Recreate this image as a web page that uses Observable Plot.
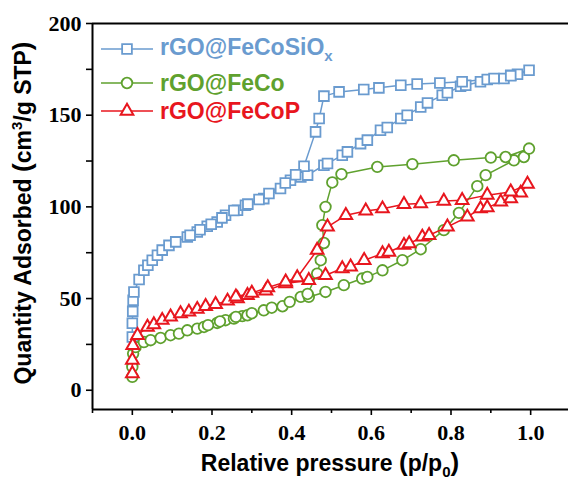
<!DOCTYPE html>
<html>
<head>
<meta charset="utf-8">
<script src="https://cdn.jsdelivr.net/npm/d3@7"></script>
<script src="https://cdn.jsdelivr.net/npm/@observablehq/plot@0.6"></script>
<style>
  html, body { margin: 0; padding: 0; background: #fff; }
  #wrap { position: relative; width: 568px; height: 479px; overflow: hidden; }
  .title { position: absolute; font-family: "Liberation Sans", Arial, sans-serif; font-weight: bold; font-size: 23px; color: #000; white-space: nowrap; line-height: 1; }
  .leg { position: absolute; display: flex; align-items: center; font-family: "Liberation Sans", Arial, sans-serif; font-weight: bold; font-size: 23px; white-space: nowrap; line-height: 1; }
  .leg svg { margin-right: 7px; }
</style>
</head>
<body>
<div id="wrap"></div>
<script>
// ---------- data ----------
const seriesNames = ["rGO@FeCoSiOx", "rGO@FeCo", "rGO@FeCoP"];
const seriesColors = ["#6a9bcf", "#5fa12e", "#e8161e"];

// rGO@FeCoSiOx : adsorption then desorption
const pBlue = [0.000,0.000,0.001,0.002,0.004,0.017,0.029,0.039,0.050,0.063,0.075,0.092,0.109,0.138,0.163,0.188,0.213,0.234,0.264,0.284,0.330,0.372,0.397,0.423,0.440,0.481,0.490,0.527,0.540,0.573,0.590,0.623,0.640,0.674,0.690,0.724,0.741,0.778,0.791,0.824,0.837,0.874,0.891,0.933,0.950,0.967,0.996,
               0.950,0.908,0.828,0.772,0.715,0.674,0.619,0.581,0.519,0.481,0.469,0.460,0.431,0.410,0.384,0.343,0.318,0.290,0.255,0.225,0.198,0.170,0.145];
const qBlue = [29,36.5,43,49,53.6,60.4,65.4,68.2,70.9,73.6,76.4,79,80.9,83.6,86.3,89.4,91.8,95.4,98.2,100.9,104.5,110,114.5,116.3,117.3,122.7,123.6,128.2,130,134.5,136.4,141.8,143.3,148.2,150,154.5,156.7,160.9,162.2,165.8,166.3,168.2,169.5,170,171.8,172.3,174.5,
               171.5,170,168.2,167.6,167,166.3,164.9,164,162.7,160.4,148.2,140.9,122.2,117.5,113,107.3,104,101.5,98,94,90.5,87.5,84.5];

// rGO@FeCo
const pGreen = [0.000,0.000,0.002,0.008,0.029,0.046,0.071,0.096,0.117,0.138,0.163,0.180,0.213,0.234,0.255,0.276,0.289,0.330,0.377,0.423,0.443,0.485,0.531,0.577,0.590,0.628,0.678,0.724,0.782,0.820,0.866,0.887,0.958,0.983,0.996,
                0.937,0.900,0.807,0.703,0.615,0.525,0.502,0.485,0.477,0.481,0.473,0.464,0.440,0.395,0.350,0.300,0.260,0.220,0.190];
const qGreen = [7.3,12.7,20,23.5,26.3,27.3,28.5,30,30.9,32.7,33.6,34.5,36.7,38.2,39.1,40.4,40.9,43.6,45.8,50.9,50.9,53.6,57.3,60.9,61.8,65.4,70.9,76.9,87.3,96.7,111.3,117.3,125.4,127.2,131.8,
                127.2,126.9,125.4,123.3,121.8,117.8,113.3,100,90,80.3,70.9,63.6,52.5,48.2,45,42,40,37.5,35.5];

// rGO@FeCoP
const pRed = [0.000,0.000,0.001,0.013,0.038,0.054,0.075,0.096,0.121,0.142,0.163,0.184,0.209,0.239,0.264,0.289,0.335,0.385,0.443,0.485,0.527,0.548,0.582,0.628,0.644,0.682,0.695,0.728,0.745,0.791,0.841,0.874,0.891,0.925,0.950,0.975,0.992,
              0.950,0.891,0.828,0.782,0.724,0.682,0.628,0.586,0.536,0.490,0.464,0.414,0.385,0.340,0.300,0.260];
const qRed = [9.1,16.4,24.5,30,34.5,35.8,38.2,40,41.8,42.7,44.2,45.8,46.9,48.7,50,51.8,54.2,58.2,60,62.7,66.4,67.3,70.9,74.5,75.4,79.1,80,83.6,84.5,89.1,94.5,99,99.6,102.7,104.5,107.6,112.4,
              108.2,106.4,103.6,103.2,101.8,101.4,99,97.8,95.4,89.1,76.4,61.5,59.1,56,53,51];

const xMajorTicks = [0, 0.2, 0.4, 0.6, 0.8, 1.0];
const xMinorTicks = [-0.1, 0.1, 0.3, 0.5, 0.7, 0.9];
const yMajorTicks = [0, 50, 100, 150, 200];
const yMinorTicks = [25, 75, 125, 175];
const xDomain = [-0.1, 1.095];
const yDomain = [-10.5, 200];

// ---------- build ----------
function rows(ps, qs, name) { return ps.map((p, i) => ({p, q: qs[i], s: name})); }
const dBlue = rows(pBlue, qBlue, seriesNames[0]);
const dGreen = rows(pGreen, qGreen, seriesNames[1]);
const dRed = rows(pRed, qRed, seriesNames[2]);

const symbols = ["square", "circle", "triangle"];
const radii = [5.5, 5.3, 4.7];
const datasets = [dBlue, dGreen, dRed];

const marks = [];
datasets.forEach((d, i) => {
  marks.push(Plot.line(d, {x: "p", y: "q", stroke: seriesColors[i], strokeWidth: 1.5}));
  marks.push(Plot.dot(d, {x: "p", y: "q", symbol: () => symbols[i], r: radii[i], stroke: seriesColors[i], fill: "white", strokeWidth: i === 2 ? 2 : 1.8}));
});

const chart = Plot.plot({
  width: 568, height: 479,
  marginLeft: 92, marginRight: 0, marginTop: 23, marginBottom: 70,
  x: {domain: xDomain},
  y: {domain: yDomain},
  style: {fontFamily: "'Liberation Serif', 'Times New Roman', serif", fontSize: "22px", fontWeight: "bold", background: "white", color: "#000"},
  marks: [
    Plot.axisX({ticks: xMajorTicks, tickFormat: d3.format(".1f"), tickSize: 6, tickPadding: 9, strokeWidth: 1.6, label: null}),
    Plot.axisX({ticks: xMinorTicks, tickFormat: () => "", tickSize: 4, strokeWidth: 1.6, label: null}),
    Plot.axisY({ticks: yMajorTicks, tickFormat: d3.format("d"), tickSize: 6, tickPadding: 5, strokeWidth: 1.6, label: null}),
    Plot.axisY({ticks: yMinorTicks, tickFormat: () => "", tickSize: 6, strokeWidth: 1.6, label: null}),
    ...marks,
    Plot.ruleX([xDomain[0]], {strokeWidth: 2}),
    Plot.ruleY([yDomain[0]], {strokeWidth: 2}),
    Plot.ruleY([yDomain[1]], {strokeWidth: 2})
  ]
});

const wrap = document.getElementById("wrap");
wrap.appendChild(chart);

// titles
const xt = document.createElement("div");
xt.className = "title";
xt.innerHTML = 'Relative pressure <span style="font-size:26px">(</span>p/p<sub style="font-size:15px">0</sub><span style="font-size:26px">)</span>';
xt.style.left = "330px"; xt.style.top = "449px"; xt.style.transform = "translateX(-50%)";
wrap.appendChild(xt);

const yt = document.createElement("div");
yt.className = "title";
yt.innerHTML = 'Quantity Adsorbed <span style="font-size:26px">(</span>cm<sup style="font-size:15px">3</sup>/g STP<span style="font-size:26px">)</span>';
yt.style.left = "22px"; yt.style.top = "213px"; yt.style.transform = "translate(-50%,-50%) rotate(-90deg)";
wrap.appendChild(yt);

// legend
const legLabels = ['rGO@FeCoSiO<sub style="font-size:15px">x</sub>', 'rGO@FeCo', 'rGO@FeCoP'];
const legY = [48, 83, 111];
legLabels.forEach((lab, i) => {
  const div = document.createElement("div");
  div.className = "leg";
  div.style.left = "101px";
  div.style.top = (legY[i] - 12) + "px";
  div.style.color = seriesColors[i];
  const sym = d3.symbol(d3[{square: "symbolSquare", circle: "symbolCircle", triangle: "symbolTriangle"}[symbols[i]]], Math.PI * radii[i] * radii[i])();
  div.innerHTML = `<svg width="52" height="24" style="overflow:visible"><line x1="0" x2="52" y1="12" y2="12" stroke="${seriesColors[i]}" stroke-width="1.7"/><path d="${sym}" transform="translate(26,12)" fill="white" stroke="${seriesColors[i]}" stroke-width="${i===2?2:1.8}"/></svg><span>${lab}</span>`;
  wrap.appendChild(div);
});
</script>
</body>
</html>
